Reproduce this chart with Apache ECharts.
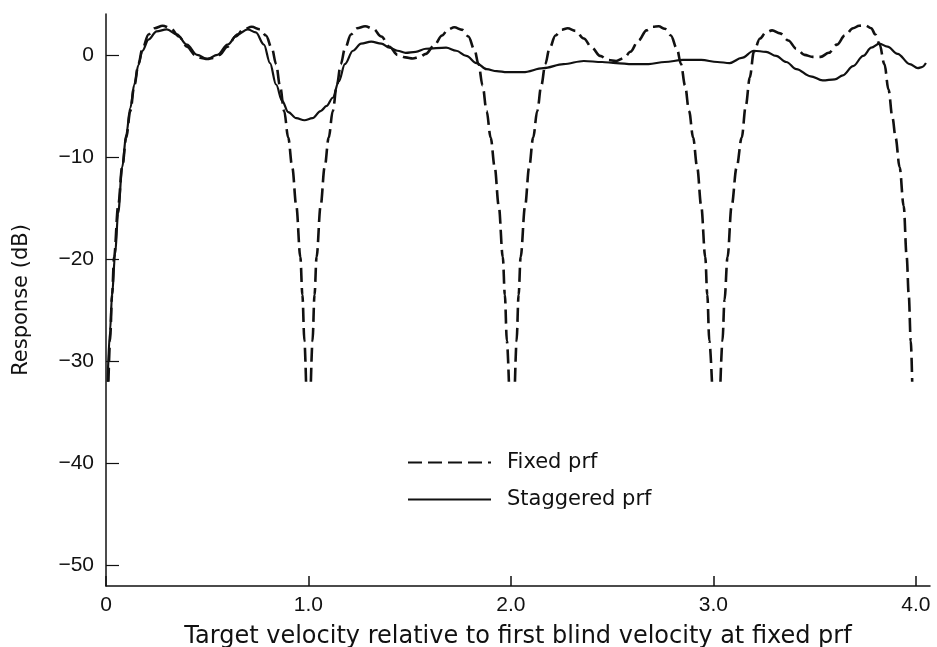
<!DOCTYPE html>
<html>
<head>
<meta charset="utf-8">
<script src="https://cdn.jsdelivr.net/npm/echarts@6/dist/echarts.min.js"></script>
<style>
html,body{margin:0;padding:0;background:#fff;}
#chart{width:937px;height:647px;}
</style>
</head>
<body>
<div id="chart"></div>
<script>
// Tick values
var xTicks = [0, 1, 2, 3, 4];
var xTickLabels = ['0', '1.0', '2.0', '3.0', '4.0'];
var yTicks = [0, -10, -20, -30, -40, -50];
var yTickLabels = ['0', '\u221210', '\u221220', '\u221230', '\u221240', '\u221250'];

// Fixed prf response [velocity, dB]; [v, null] marks the clipped nulls
var fixedPrf = [
  [0.012,-32],[0.02,-28],[0.03,-23.5],[0.04,-19.8],[0.06,-14.8],[0.08,-11],[0.10,-8.1],[0.12,-5.5],[0.14,-3],[0.16,-0.9],[0.18,0.6],[0.21,2],[0.24,2.6],[0.28,2.85],[0.32,2.6],[0.36,1.8],[0.40,0.8],[0.44,0],[0.47,-0.3],[0.50,-0.4],[0.53,-0.3],[0.56,0],[0.60,0.8],[0.64,1.8],[0.68,2.5],[0.72,2.75],[0.76,2.5],[0.79,1.9],[0.82,0.6],[0.84,-0.9],[0.86,-3.1],[0.88,-5.5],[0.90,-8.1],[0.92,-11],[0.94,-14.8],[0.96,-19.8],[0.97,-23.5],[0.98,-28],[0.988,-32],
  [1.0,null],
  [1.012,-32],[1.02,-28],[1.03,-23.5],[1.04,-19.8],[1.06,-14.8],[1.08,-11],[1.10,-8.1],[1.12,-5.5],[1.14,-3],[1.16,-0.9],[1.18,0.6],[1.21,2],[1.24,2.6],[1.28,2.8],[1.32,2.55],[1.36,1.8],[1.40,0.8],[1.44,0],[1.48,-0.25],[1.515,-0.35],[1.55,-0.2],[1.58,0.1],[1.62,0.9],[1.66,1.9],[1.69,2.5],[1.72,2.7],[1.76,2.45],[1.79,1.8],[1.82,0.5],[1.84,-0.9],[1.86,-3],[1.88,-5.5],[1.90,-8.1],[1.92,-11],[1.94,-14.8],[1.96,-19.8],[1.97,-23.5],[1.98,-28],[1.99,-32],
  [2.005,null],
  [2.02,-32],[2.028,-28],[2.038,-23.5],[2.048,-19.8],[2.07,-14.8],[2.09,-11],[2.11,-8.1],[2.13,-5.5],[2.15,-3],[2.17,-0.9],[2.19,0.6],[2.22,1.9],[2.25,2.45],[2.28,2.6],[2.32,2.35],[2.36,1.6],[2.40,0.7],[2.44,-0.1],[2.48,-0.5],[2.52,-0.6],[2.56,-0.3],[2.59,0.3],[2.63,1.4],[2.67,2.4],[2.70,2.75],[2.73,2.8],[2.76,2.55],[2.79,1.9],[2.82,0.6],[2.84,-0.9],[2.86,-3],[2.88,-5.5],[2.90,-8.1],[2.92,-11],[2.94,-14.8],[2.96,-19.8],[2.97,-23.5],[2.98,-28],[2.993,-32],
  [3.01,null],
  [3.035,-32],[3.045,-28],[3.055,-24],[3.07,-19.8],[3.09,-14.8],[3.115,-11],[3.14,-8.1],[3.16,-5],[3.18,-2.2],[3.20,0.3],[3.23,1.6],[3.26,2.2],[3.29,2.4],[3.33,2.1],[3.37,1.4],[3.41,0.6],[3.45,0],[3.49,-0.2],[3.53,-0.2],[3.57,0.2],[3.61,1.0],[3.65,1.9],[3.69,2.6],[3.72,2.85],[3.75,2.9],[3.78,2.6],[3.80,2.0],[3.82,1.1],[3.845,-0.9],[3.865,-3.4],[3.885,-6.2],[3.90,-8.1],[3.92,-11],[3.94,-14.8],[3.955,-19.8],[3.965,-23.5],[3.975,-28],[3.982,-32]
];

// Staggered prf response [velocity, dB]
var staggeredPrf = [
  [0.008,-32],[0.02,-27],[0.03,-23.5],[0.045,-19.5],[0.06,-15.5],[0.08,-11],[0.10,-7.8],[0.12,-5.2],[0.14,-2.9],[0.16,-1.0],[0.18,0.4],[0.21,1.5],[0.25,2.3],[0.30,2.5],[0.35,2.0],[0.40,1.0],[0.45,0],[0.50,-0.4],[0.55,0],[0.60,1.0],[0.65,2.0],[0.70,2.5],[0.74,2.2],[0.78,1.0],[0.81,-0.8],[0.84,-2.9],[0.87,-4.5],[0.90,-5.6],[0.94,-6.2],[0.98,-6.4],[1.02,-6.2],[1.06,-5.5],[1.09,-5],[1.12,-4.2],[1.15,-2.6],[1.18,-0.9],[1.22,0.4],[1.26,1.1],[1.31,1.3],[1.36,1.1],[1.40,0.7],[1.44,0.4],[1.48,0.2],[1.53,0.3],[1.58,0.6],[1.68,0.7],[1.73,0.4],[1.78,-0.1],[1.83,-0.8],[1.88,-1.4],[1.93,-1.6],[1.98,-1.7],[2.06,-1.7],[2.16,-1.3],[2.26,-0.9],[2.36,-0.6],[2.45,-0.7],[2.52,-0.8],[2.60,-0.9],[2.68,-0.9],[2.76,-0.7],[2.85,-0.5],[2.94,-0.5],[3.02,-0.7],[3.08,-0.8],[3.14,-0.3],[3.20,0.4],[3.26,0.3],[3.31,-0.1],[3.36,-0.7],[3.41,-1.4],[3.48,-2.1],[3.54,-2.5],[3.60,-2.4],[3.64,-2.0],[3.69,-1.1],[3.74,-0.1],[3.78,0.7],[3.82,1.1],[3.86,0.8],[3.91,0.1],[3.97,-0.9],[4.01,-1.3],[4.03,-1.2],[4.05,-0.8]
];

var FONT = 'Liberation Sans';
var FONT2 = 'DejaVu Sans';
var chart = echarts.init(document.getElementById('chart'), null, {renderer: 'canvas'});
chart.setOption({
  animation: false,
  backgroundColor: '#fff',
  grid: {left: 106, right: 7, top: 14, bottom: 61, containLabel: false, outerBoundsMode: 'none'},
  legend: {
    orient: 'vertical',
    left: 407,
    top: 452,
    padding: 0,
    itemWidth: 83,
    itemHeight: 20,
    itemGap: 16,
    itemStyle: {color: 'rgba(0,0,0,0)', borderWidth: 0, opacity: 0},
    textStyle: {fontFamily: FONT2, fontSize: 21, color: '#111', padding: [0, 0, 0, 11]},
    data: ['Fixed prf', 'Staggered prf']
  },
  xAxis: {
    type: 'value',
    min: 0,
    max: 4.07,
    name: 'Target velocity relative to first blind velocity at fixed prf',
    nameLocation: 'middle',
    nameGap: 39,
    nameTextStyle: {fontFamily: FONT2, fontSize: 24, color: '#111'},
    axisLine: {show: true, onZero: false, lineStyle: {color: '#111', width: 1.5}},
    axisTick: {show: true, inside: true, length: 10, lineStyle: {color: '#111', width: 1.5}, customValues: xTicks},
    axisLabel: {
      fontFamily: FONT, fontSize: 21, color: '#111', margin: 9,
      customValues: xTicks,
      formatter: function (v) { return xTickLabels[xTicks.indexOf(Math.round(v))]; }
    },
    splitLine: {show: false}
  },
  yAxis: {
    type: 'value',
    min: -52,
    max: 4,
    name: 'Response (dB)',
    nameLocation: 'middle',
    nameGap: 74,
    nameTextStyle: {fontFamily: FONT2, fontSize: 21, color: '#111'},
    axisLine: {show: true, onZero: false, lineStyle: {color: '#111', width: 1.5}},
    axisTick: {show: true, inside: true, length: 13, lineStyle: {color: '#111', width: 1.2}, customValues: yTicks},
    axisLabel: {
      fontFamily: FONT, fontSize: 21, color: '#111', margin: 12,
      customValues: yTicks,
      formatter: function (v) { return yTickLabels[yTicks.indexOf(Math.round(v))]; }
    },
    splitLine: {show: false}
  },
  series: [
    {
      name: 'Fixed prf',
      type: 'line',
      data: fixedPrf,
      symbol: 'none',
      smooth: 0.35,
      smoothMonotone: 'x',
      connectNulls: false,
      lineStyle: {color: '#111', width: 2.6, type: [14, 6]},
      itemStyle: {color: '#111'}
    },
    {
      name: 'Staggered prf',
      type: 'line',
      data: staggeredPrf,
      symbol: 'none',
      smooth: 0.35,
      smoothMonotone: 'x',
      lineStyle: {color: '#111', width: 2.2},
      itemStyle: {color: '#111'}
    }
  ]
});
</script>
</body>
</html>
